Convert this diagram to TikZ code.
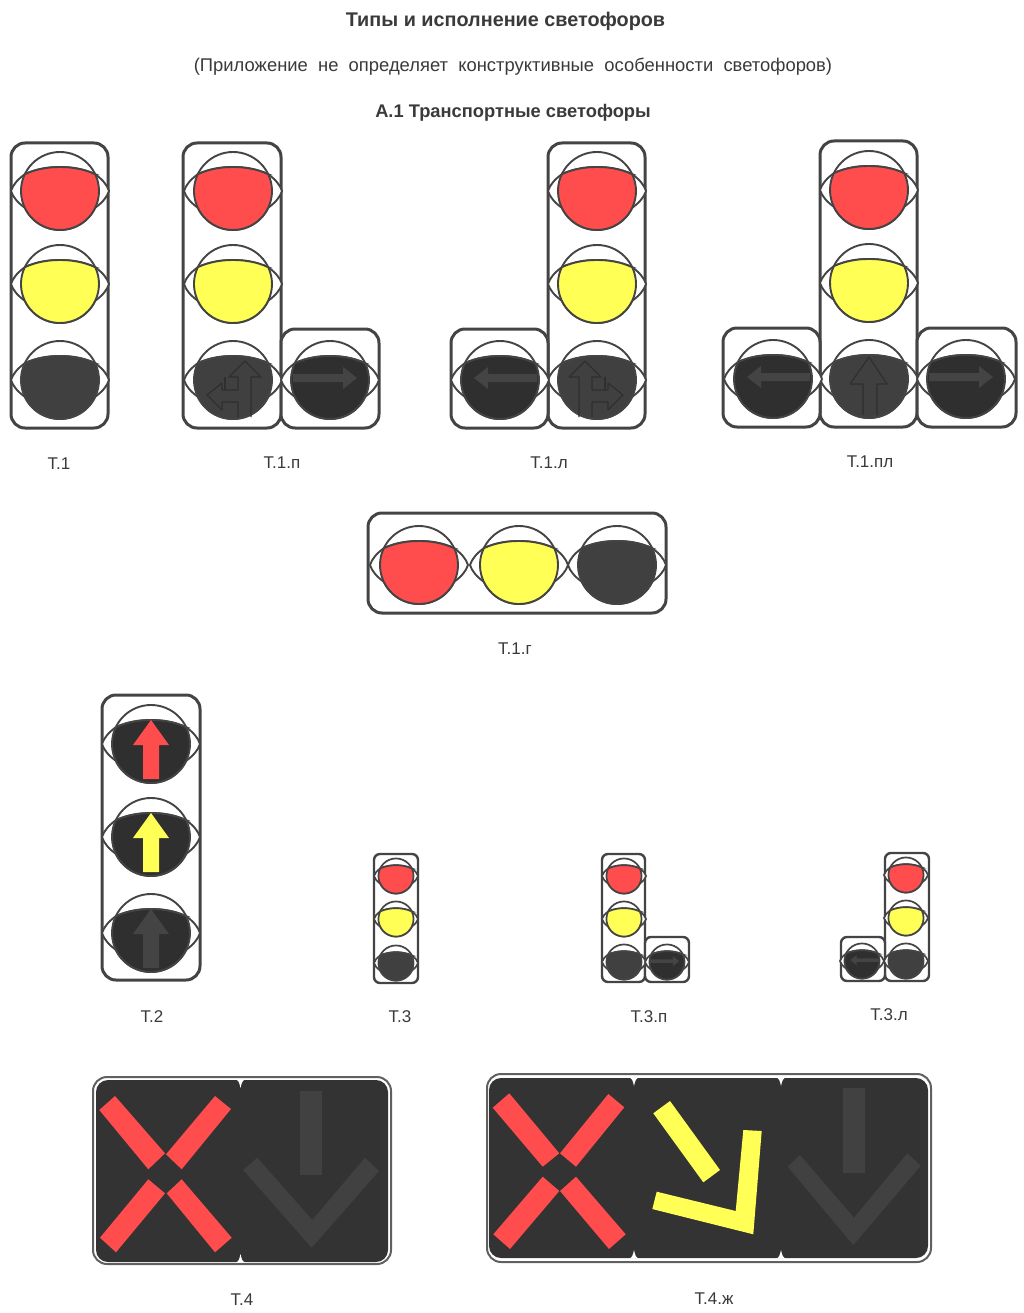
\documentclass[tikz,border=0pt]{standalone}
\usepackage{fontspec}
\setmainfont{Liberation Sans}
\definecolor{lred}{HTML}{FF4D4D}
\definecolor{lyel}{HTML}{FFFF55}
\definecolor{ldark}{HTML}{404040}
\definecolor{ldeep}{HTML}{2F2F2F}
\definecolor{lglyph}{HTML}{444444}
\definecolor{lline}{HTML}{444444}
\definecolor{board}{HTML}{333333}
\definecolor{boardsign}{HTML}{414141}
\definecolor{labelc}{HTML}{3A3A3A}
\tikzset{
  housing/.style={draw=lline,line width=3pt,rounded corners=14pt,fill=white},
  smallhousing/.style={draw=lline,line width=2.4pt,rounded corners=6pt,fill=white},
  lampline/.style={draw=lline,line width=\lampw pt},
  glyphfill/.style={fill=lglyph},
  etchline/.style={draw=ldeep,line width=\etchw pt,line join=round},
  boardframe/.style={draw=gray!75!black,line width=2pt,rounded corners=14pt,fill=white},
  boardcell/.style={fill=board,rounded corners=12pt},
  redbar/.style={fill=lred},
  yelbar/.style={fill=lyel},
  signbar/.style={fill=boardsign},
  caption/.style={text=labelc,font=\fontsize{17}{17}\selectfont,inner sep=0pt},
}
\def\lampw{1.9}
\def\etchw{1.2}
% #1 x, #2 y, #3 scale, #4 colour, #5 glyph drawn in lamp coordinates (y up)
\newcommand{\lampat}[5]{%
  \begin{scope}[shift={(#1,#2)},y=1pt,scale=#3]
    \draw[lampline,fill=white] (0,0) circle[radius=39];
    \draw[lampline,fill=white] (-49,0) .. controls (-47,6) and (-43,11) .. (-35.2,16.8)
       .. controls (-24,22) and (-12,24) .. (0,24)
       .. controls (12,24) and (24,22) .. (35.2,16.8)
       .. controls (43,11) and (47,6) .. (49,0)
       .. controls (47,-6) and (43,-11) .. (35.2,-16.8)
       -- (-35.2,-16.8) .. controls (-43,-11) and (-47,-6) .. (-49,0) -- cycle;
    \draw[lampline,fill=#4] (35.2,16.8) .. controls (24,22) and (12,24) .. (0,24)
       .. controls (-12,24) and (-24,22) .. (-35.2,16.8)
       arc[start angle=154.5,end angle=385.5,radius=39] -- cycle;
    #5
  \end{scope}}
% #1 x of the joint between two cells, #2 top edge, #3 bottom edge
\newcommand{\cellnotch}[3]{%
  \fill[white] (#1-5,#2-.5) .. controls (#1-2,#2) and (#1-1,#2+3) .. (#1,#2+8)
     .. controls (#1+1,#2+3) and (#1+2,#2) .. (#1+5,#2-.5) -- cycle;
  \fill[white] (#1-5,#3+.5) .. controls (#1-2,#3) and (#1-1,#3-3) .. (#1,#3-8)
     .. controls (#1+1,#3-3) and (#1+2,#3) .. (#1+5,#3+.5) -- cycle;}
\newcommand{\rightglyph}{\fill[glyphfill] (-37,6)--(13,6)--(13,13)--(27,2)--(13,-9)--(13,-2)--(-37,-2)--cycle;}
\newcommand{\leftglyph}{\fill[glyphfill] (37,6)--(-12,6)--(-12,13)--(-26,2)--(-12,-9)--(-12,-2)--(37,-2)--cycle;}
\newcommand{\branchglyph}{%
  \draw[etchline] (18,-37)--(18,3)--(28,3)--(12,19)--(-4,3)--(5,3)--(5,-10)--(-11,-10)--(-11,-3)--(-26,-15)--(-11,-30)--(-11,-22)--(5,-22)--(5,-37);
  \draw[etchline] (-8,3)--(-8,-10);}
\newcommand{\upetch}{\draw[etchline] (-6,-36)--(-6,-5)--(-19,-5)--(0,22)--(18,-5)--(8,-5)--(8,-36);}
\newcommand{\upglyph}[1]{\fill[#1] (0,24)--(18,-1)--(8,-1)--(8,-35)--(-8,-35)--(-8,-1)--(-18,-1)--cycle;}
\begin{document}
\begin{tikzpicture}[x=1pt,y=-1pt]
\fill[white] (0,0) rectangle (1024,1313);
\useasboundingbox (0,0) rectangle (1024,1313);

% headings
\node[text=labelc,font=\fontsize{19.8}{20}\selectfont\bfseries,inner sep=0pt] (title) at (505.5,21.5) {Типы и исполнение светофоров};
\node[text=labelc,font=\fontsize{18.4}{20}\selectfont,inner sep=0pt] (sub) at (513,67) {(Приложение\ \ не\ \ определяет\ \ конструктивные\ \ особенности\ \ светофоров)};
\node[text=labelc,font=\fontsize{18.3}{20}\selectfont\bfseries,inner sep=0pt] (sect) at (513,112.5) {А.1 Транспортные светофоры};

% T.1
\draw[housing] (11,143) rectangle (108,428);
\lampat{60}{191}{1}{lred}{}
\lampat{60}{284}{1}{lyel}{}
\lampat{60}{380}{1}{ldark}{}
\node[caption] (t1) at (59,464) {Т.1};

% T.1.p
\draw[housing] (183,143) rectangle (281,428);
\draw[housing] (281,329) rectangle (379,428);
\lampat{233}{191}{1}{lred}{}
\lampat{233}{284}{1}{lyel}{}
\lampat{233}{380}{1}{ldark}{\branchglyph}
\lampat{330}{380}{1}{ldeep}{\rightglyph}
\node[caption] (t1p) at (282,463) {Т.1.п};

% T.1.l
\draw[housing] (548,143) rectangle (645,428);
\draw[housing] (451,329) rectangle (548,428);
\lampat{597}{191}{1}{lred}{}
\lampat{597}{284}{1}{lyel}{}
\lampat{597}{380}{1}{ldark}{\begin{scope}[xscale=-1]\branchglyph\end{scope}}
\lampat{500}{380}{1}{ldeep}{\leftglyph}
\node[caption] (t1l) at (549,463) {Т.1.л};

% T.1.pl
\draw[housing] (820,141) rectangle (917,427);
\draw[housing] (723,328) rectangle (820,427);
\draw[housing] (917,328) rectangle (1016,427);
\lampat{869}{190}{1}{lred}{}
\lampat{869}{283}{1}{lyel}{}
\lampat{869}{379}{1}{ldark}{\upetch}
\lampat{773}{379}{1}{ldeep}{\leftglyph}
\lampat{966}{379}{1}{ldeep}{\rightglyph}
\node[caption] (t1pl) at (870,462) {Т.1.пл};

% T.1.g
\draw[housing] (368,513) rectangle (666,613);
\lampat{419}{565}{1}{lred}{}
\lampat{519}{565}{1}{lyel}{}
\lampat{617}{565}{1}{ldark}{}
\node[caption] (t1g) at (515,649) {Т.1.г};

% T.2
\draw[housing] (102,695) rectangle (200,980);
\lampat{151}{744}{1}{ldeep}{\upglyph{lred}}
\lampat{151}{837}{1}{ldeep}{\upglyph{lyel}}
\lampat{151}{933}{1}{ldeep}{\upglyph{lglyph}}
\node[caption] (t2) at (152,1017) {Т.2};

% T.3 family
\def\lampw{1.7}
\draw[smallhousing] (374,854) rectangle (418,983);
\lampat{396}{876}{.45}{lred}{}
\lampat{396}{919}{.45}{lyel}{}
\lampat{396}{963}{.45}{ldark}{}
\node[caption] (t3) at (400,1017) {Т.3};

\draw[smallhousing] (602,854) rectangle (645,982);
\draw[smallhousing] (645,937) rectangle (689,982);
\lampat{624}{876}{.45}{lred}{}
\lampat{624}{919}{.45}{lyel}{}
\lampat{624}{962}{.45}{ldark}{}
\lampat{667}{962}{.45}{ldeep}{\rightglyph}
\node[caption] (t3p) at (649,1017) {Т.3.п};

\draw[smallhousing] (885,853) rectangle (929,981);
\draw[smallhousing] (841,937) rectangle (885,981);
\lampat{906}{875}{.45}{lred}{}
\lampat{906}{918}{.45}{lyel}{}
\lampat{906}{961}{.45}{ldark}{}
\lampat{862}{961}{.45}{ldeep}{\leftglyph}
\node[caption] (t3l) at (889,1015) {Т.3.л};

% T.4
\draw[boardframe] (93,1077) rectangle (391,1264);
\fill[boardcell] (96,1080) rectangle (388,1262);
\cellnotch{240.5}{1080}{1262}
\fill[redbar] (99.3,1110)--(115,1096)--(165,1153.3)--(148.3,1169.3)--cycle;
\fill[redbar] (215,1096)--(231,1109)--(181.7,1169.3)--(166,1154.3)--cycle;
\fill[redbar] (148.3,1179.3)--(165,1193.3)--(116,1252.3)--(100,1237.7)--cycle;
\fill[redbar] (181.7,1179.3)--(231.7,1237.7)--(215,1252.3)--(166.7,1193.3)--cycle;
\fill[signbar] (300,1091) rectangle (322.3,1175);
\fill[signbar] (243.3,1170)--(257.3,1157.7)--(312.3,1220)--(365,1157.7)--(379,1171)--(311.7,1247.7)--cycle;
\node[caption] (t4) at (242,1300) {Т.4};

% T.4.zh
\draw[boardframe] (487,1074) rectangle (931,1262);
\fill[boardcell] (489,1078) rectangle (928,1258);
\cellnotch{634}{1078}{1258}
\cellnotch{781}{1078}{1258}
\fill[redbar] (492.7,1107.7)--(509.3,1093.3)--(559.3,1153.3)--(542.7,1166.7)--cycle;
\fill[redbar] (608.3,1094)--(624.3,1107.3)--(576,1166.7)--(560,1153.3)--cycle;
\fill[redbar] (542.7,1176.7)--(559.3,1191)--(510,1249)--(493.3,1234.3)--cycle;
\fill[redbar] (576,1176.7)--(625.7,1234.3)--(609,1249)--(560,1191)--cycle;
\fill[yelbar] (653.3,1113.3)--(670,1101)--(720,1170)--(703.3,1182.3)--cycle;
\fill[yelbar] (743.3,1130)--(761.7,1131)--(753.3,1234.3)--(652.3,1209)--(656.7,1191.7)--(735.7,1211)--cycle;
\fill[signbar] (843.3,1088.3) rectangle (865,1173.3);
\fill[signbar] (787.7,1166.7)--(800,1155)--(854,1217.7)--(907.3,1153.3)--(920.7,1165.7)--(853.3,1245)--cycle;
\node[caption] (t4z) at (714,1299) {Т.4.ж};
\end{tikzpicture}
\end{document}
